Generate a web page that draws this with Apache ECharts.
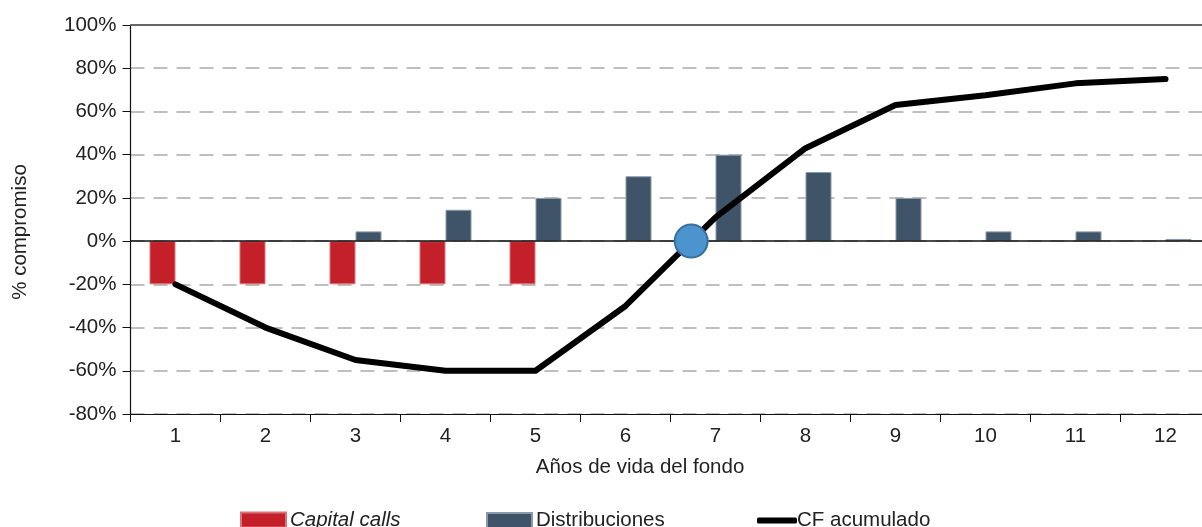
<!DOCTYPE html>
<html>
<head>
<meta charset="utf-8">
<script src="https://cdn.jsdelivr.net/npm/echarts@6/dist/echarts.min.js"></script>
<style>html,body{margin:0;padding:0;background:#fff;}#c{width:1202px;height:527px;}</style>
</head>
<body>
<div id="c"></div>
<script>
const categories = ['1','2','3','4','5','6','7','8','9','10','11','12'];
const capitalCalls = [-20,-20,-20,-20,-20,null,null,null,null,null,null,null];
const distribuciones = [null,null,4.5,14.5,20,30,40,32,20,4.5,4.5,1];
const cfAcumulado = [-20,-40,-55,-60,-60,-30,11,43,63,67.5,73,75];
const breakEven = [[6.73, 0]];
const yTicks = {min:-80, max:100, interval:20};

const FONT = 'Liberation Sans, Arial, sans-serif';
const FS = 20.5;
const chart = echarts.init(document.getElementById('c'));
chart.setOption({
  animation:false,
  backgroundColor:'#fff',
  grid:{left:130.5, width:1080, top:25, bottom:113, containLabel:false, outerBoundsMode:'none'},
  graphic:[
    {type:'text', x:20, y:232, rotation:Math.PI/2, style:{text:'% compromiso', font:FS+'px '+FONT, fill:'#222', textAlign:'center', textVerticalAlign:'middle'}},
    {type:'text', x:640, y:467, style:{text:'Años de vida del fondo', font:FS+'px '+FONT, fill:'#222', textAlign:'center', textVerticalAlign:'middle'}}
  ],
  legend:[
    {left:240, top:510, padding:0, itemWidth:45, itemHeight:15, textStyle:{fontSize:FS, fontFamily:FONT, color:'#222', fontStyle:'italic', padding:[0,0,0,-1]},
     data:[{name:'Capital calls', icon:'rect'}], selectedMode:false},
    {left:486, top:510, padding:0, itemWidth:45, itemHeight:15, textStyle:{fontSize:FS, fontFamily:FONT, color:'#222', padding:[0,0,0,-1]},
     data:[{name:'Distribuciones', icon:'rect'}], selectedMode:false},
    {left:757, top:510, padding:0, itemWidth:40, itemHeight:6, textStyle:{fontSize:FS, fontFamily:FONT, color:'#222', padding:[0,0,0,-5]},
     data:[{name:'CF acumulado', icon:'roundRect', itemStyle:{color:'#000'}}], selectedMode:false}
  ],
  xAxis:[
    {type:'category', data:categories, boundaryGap:true,
     axisLine:{onZero:false, lineStyle:{color:'#111', width:1.2}},
     axisTick:{show:true, length:8, lineStyle:{color:'#111'}},
     axisLabel:{fontSize:FS, fontFamily:FONT, color:'#222', margin:12},
     splitLine:{show:false}},
    {type:'value', min:0.5, max:12.5, show:false}
  ],
  yAxis:{type:'value', min:yTicks.min, max:yTicks.max, interval:yTicks.interval,
     axisLine:{show:true, lineStyle:{color:'#111', width:1.2}},
     axisTick:{show:true, length:8, lineStyle:{color:'#111'}},
     axisLabel:{fontSize:FS, fontFamily:FONT, color:'#222', margin:14, formatter:'{value}%'},
     splitLine:{show:true, lineStyle:{color:'#aaa', width:1.5, type:[14,9]}}},
  series:[
    {name:'Capital calls', type:'bar', data:capitalCalls, barWidth:26, barGap:'0%',
     itemStyle:{color:'#C3202A', borderColor:'#d9737a', borderWidth:1},
     markLine:{silent:true, symbol:'none', label:{show:false},
       data:[{yAxis:0, lineStyle:{color:'#111', width:1.5, type:'solid'}},
             {yAxis:100, lineStyle:{color:'#666', width:2, type:'solid'}}]}},
    {name:'Distribuciones', type:'bar', data:distribuciones, barWidth:26, barGap:'0%',
     itemStyle:{color:'#3F5468', borderColor:'#8c9aa8', borderWidth:1}},
    {name:'CF acumulado', type:'line', data:cfAcumulado, symbol:'none', z:5,
     lineStyle:{color:'#000', width:6, cap:'round', join:'round'}, itemStyle:{color:'#000'}},
    {name:'Break-even', type:'scatter', xAxisIndex:1, data:breakEven, symbolSize:33, z:10,
     itemStyle:{color:'#4C94CE', borderColor:'#3A6FA0', borderWidth:2, opacity:1}}
  ]
});
</script>
</body>
</html>
